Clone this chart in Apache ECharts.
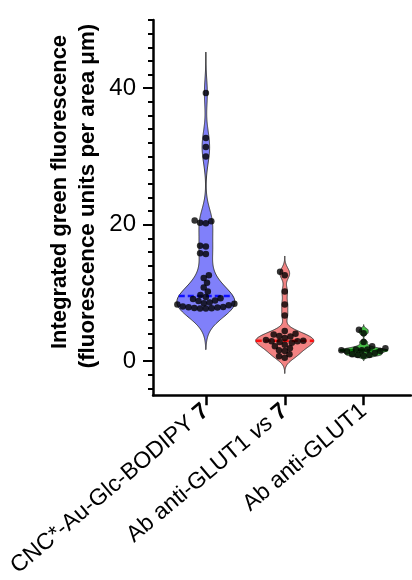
<!DOCTYPE html>
<html><head><meta charset="utf-8">
<script src="https://cdn.jsdelivr.net/npm/echarts@6/dist/echarts.min.js"></script>
<style>html,body{margin:0;padding:0;background:#fff}#c{width:412px;height:580px}</style>
</head><body><div id="c"></div>
<script>
// ---- data ----
const categories = ['CNC*-Au-Glc-BODIPY 7', 'Ab anti-GLUT1 vs 7', 'Ab anti-GLUT1'];
const groupCNC = [39.3, 32.7, 31.4, 30.0, 20.6, 20.5, 20.3, 20.2, 16.9, 16.8, 15.8, 15.7,
  12.6, 12.2, 11.5, 10.8, 10.2, 9.7, 9.4, 9.2, 9.1, 8.9,
  8.8, 8.6, 8.5, 8.4, 8.3, 8.2,
  8.0, 7.95, 7.9, 7.85, 7.8, 7.75, 7.7, 7.7];
const groupAbVs7 = [13.1, 12.6, 10.2, 8.3, 6.7, 4.4, 4.0, 3.9, 3.7, 3.6, 3.4, 3.1, 3.0, 2.9,
  2.9, 2.8, 2.7, 2.4, 2.2, 1.9, 1.6, 1.5, 1.0, 0.7, 0.5];
const groupAb = [4.6, 4.1, 2.8, 2.2, 1.9, 1.7, 1.7, 1.6, 1.6, 1.5, 1.4, 1.2, 1.0, 0.9, 0.9, 0.8];
const yLabelTicks = [0, 20, 40];
const yMinorTicks = [-4, -2, 2, 4, 6, 8, 10, 12, 14, 16, 18, 22, 24, 26, 28, 30, 32, 34, 36, 38, 42, 44, 46, 48, 50];
const yTitle1 = 'Integrated green fluorescence';
const yTitle2 = '(fluorescence units per area \u03bcm)';

// ---- styling ----
const groups = [groupCNC, groupAbVs7, groupAb];
const fills = ['#8080fa', '#f28282', '#48bf48'];
const medianColors = ['#1010ff', '#ff1010', '#0a7a0a'];
const bandwidths = [2.0, 0.77, 0.25];
const halfWidthPx = [29, 29, 24];
const FONT = '"Liberation Sans", Arial, sans-serif';

function kde(data, h, y) { let s = 0; for (const v of data) { const z = (y - v) / h; s += Math.exp(-0.5 * z * z); } return s; }
function median(a) { const s = [...a].sort((x, y) => x - y); const n = s.length; return n % 2 ? s[(n - 1) / 2] : (s[n / 2 - 1] + s[n / 2]) / 2; }
const profiles = groups.map((g, i) => {
  const h = bandwidths[i];
  const lo = Math.min(...g) - 3 * h, hi = Math.max(...g) + 3 * h;
  const N = 300, pts = []; let max = 0;
  for (let k = 0; k <= N; k++) { const y = lo + (hi - lo) * k / N; const d = kde(g, h, y); pts.push([y, d]); if (d > max) max = d; }
  return { pts: pts.map(p => [p[0], p[1] / max]), max };
});
const medians = groups.map(median);

function fmtLabel(v) {
  const i = Math.round(v) - 1;
  const s = categories[i] || '';
  return s.replace(' vs ', ' {i|vs} ').replace(/ 7$/, ' {b|7}');
}

const chart = echarts.init(document.getElementById('c'), null, { renderer: 'canvas' });
const option = {
  animation: false,
  backgroundColor: '#fff',
  grid: { left: 153, right: 1, top: 20, bottom: 182, containLabel: false },
  xAxis: {
    type: 'value', min: 0.33, max: 3.6,
    axisLine: { show: true, onZero: false, lineStyle: { color: '#000', width: 2.5 } },
    axisTick: { show: true, customValues: [1, 2, 3], length: 10, lineStyle: { color: '#000', width: 2.5 } },
    axisLabel: {
      customValues: [1, 2, 3], rotate: 40, margin: 13, color: '#000', fontSize: 23, fontFamily: FONT,
      formatter: fmtLabel,
      rich: {
        b: { fontWeight: 'bold', fontSize: 23, fontFamily: FONT, color: '#000' },
        i: { fontStyle: 'italic', fontSize: 23, fontFamily: FONT, color: '#000' }
      }
    },
    splitLine: { show: false }
  },
  yAxis: [{
    type: 'value', min: -5, max: 50, position: 'left',
    axisLine: { show: true, onZero: false, lineStyle: { color: '#000', width: 2.5 } },
    axisTick: { show: true, customValues: yLabelTicks, length: 10, lineStyle: { color: '#000', width: 2 } },
    axisLabel: { customValues: yLabelTicks, margin: 17, color: '#000', fontSize: 24, fontFamily: FONT },
    splitLine: { show: false }
  }, {
    type: 'value', min: -5, max: 50, position: 'left',
    axisLine: { show: false },
    axisTick: { show: true, customValues: yMinorTicks, length: 5, lineStyle: { color: '#000', width: 2 } },
    axisLabel: { show: false },
    splitLine: { show: false }
  }],
  graphic: [
    { type: 'text', x: 60, y: 192, rotation: Math.PI / 2, style: { text: yTitle1, font: 'bold 22px ' + FONT, textAlign: 'center', textVerticalAlign: 'middle', fill: '#000' } },
    { type: 'text', x: 88, y: 196, rotation: Math.PI / 2, style: { text: yTitle2, font: 'bold 22.3px ' + FONT, textAlign: 'center', textVerticalAlign: 'middle', fill: '#000' } }
  ],
  series: [{
    type: 'custom', id: 'violins', clip: false, z: 2,
    data: categories.map((c, i) => [i + 1, medians[i]]),
    renderItem: function (params, api) {
      const gi = params.dataIndex;
      const xc = api.value(0);
      const prof = profiles[gi].pts, hw = halfWidthPx[gi];
      const left = [], right = [];
      prof.forEach(([y, d]) => { const p = api.coord([xc, y]); left.push([p[0] - hw * d, p[1]]); right.push([p[0] + hw * d, p[1]]); });
      const poly = left.concat(right.reverse());
      const med = medians[gi];
      const md = kde(groups[gi], bandwidths[gi], med) / profiles[gi].max;
      const pm = api.coord([xc, med]);
      return { type: 'group', children: [
        { type: 'polygon', shape: { points: poly }, style: { fill: fills[gi], stroke: '#3a3a3a', lineWidth: 1 } },
        { type: 'line', shape: { x1: pm[0] - hw * md, y1: pm[1], x2: pm[0] + hw * md, y2: pm[1] }, style: { stroke: medianColors[gi], lineWidth: 2.5, lineDash: [6, 3] } }
      ] };
    }
  }, {
    type: 'scatter', id: 'dots', z: 5, symbol: 'circle', symbolSize: 6.5,
    itemStyle: { color: '#000' }, data: []
  }]
};
chart.setOption(option);

// beeswarm layout (pixel space) computed from the data values
const D = 5.8;
const swarm = [];
groups.forEach((g, gi) => {
  const xc = gi + 1;
  const cx = chart.convertToPixel({ gridIndex: 0 }, [xc, 0])[0];
  const items = g.map(v => ({ v, py: chart.convertToPixel({ gridIndex: 0 }, [xc, v])[1] })).sort((a, b) => b.py - a.py);
  const placed = [];
  items.forEach(it => {
    const ivs = [];
    placed.forEach(p => { const dy = Math.abs(p.py - it.py); if (dy < D) { const dx = Math.sqrt(D * D - dy * dy); ivs.push([p.dx - dx, p.dx + dx]); } });
    const cands = [0]; ivs.forEach(iv => cands.push(iv[0], iv[1]));
    cands.sort((a, b) => Math.abs(a) - Math.abs(b) || a - b);
    let best = 0;
    for (const c of cands) { if (ivs.every(iv => c <= iv[0] + 1e-6 || c >= iv[1] - 1e-6)) { best = c; break; } }
    placed.push({ py: it.py, dx: best });
    const xv = chart.convertFromPixel({ gridIndex: 0 }, [cx + best, it.py])[0];
    swarm.push([xv, it.v]);
  });
});
chart.setOption({ series: [{ id: 'dots', data: swarm }] });
</script></body></html>
